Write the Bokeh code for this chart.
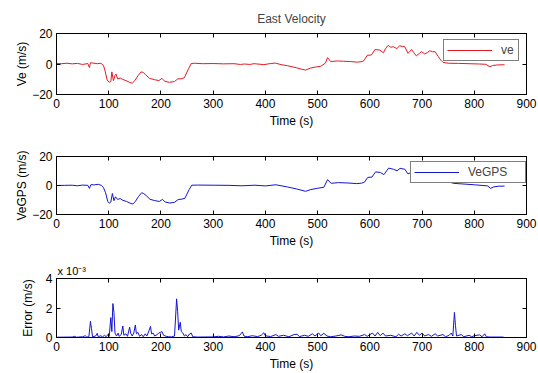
from bokeh.plotting import figure
from bokeh.models import Range1d, FixedTicker, LinearAxis, Legend, LegendItem, Title
from bokeh.layouts import column
from bokeh.embed import file_html
from bokeh.resources import INLINE

FONT = "Liberation Sans"

# ---------------- data ----------------
x_ticks = [0, 100, 200, 300, 400, 500, 600, 700, 800, 900]

ve_t = [0, 10, 20, 30, 40, 50, 60, 63, 65, 70, 78, 85, 90, 93, 97, 101, 104, 106, 109, 112,
        114, 117, 122, 126, 133, 140, 145, 150, 156, 162, 166, 170, 178, 188, 196, 202, 207,
        216, 226, 232, 240, 245, 248, 253, 258, 265, 280, 300, 320, 340, 352, 360, 370, 378,
        397, 410, 419, 430, 442, 460, 470, 477, 486, 496, 506, 515, 519, 525, 538, 550, 563,
        576, 585, 589, 595, 603, 610, 619, 626, 630, 635, 640, 645, 652, 657, 662, 667, 673,
        676, 680, 684, 689, 695, 699, 705, 710, 715, 720, 725, 731, 736, 740, 750, 770, 790,
        810, 822, 830, 835, 845, 858]
ve = [0.3, 0.2, 0.5, 0.1, 0.4, -0.3, 0.3, -2.3, 0.8, 0.6, 0.2, 0.5, -1.0, -4.5, -10.5, -12.0,
      -11.5, -5.2, -10.9, -7.5, -6.6, -9.8, -9.2, -10.0, -10.9, -12.0, -12.6, -10.9, -7.7,
      -5.2, -5.5, -6.8, -9.4, -10.3, -10.9, -9.4, -11.3, -12.0, -11.5, -9.8, -9.6, -9.0,
      -6.6, -3.0, 0.3, 0.5, 0.2, 0.3, 0.1, 0.2, -0.3, 0.0, -0.3, 0.2, -0.4, 0.3, 0.6, -0.4,
      -1.1, -2.5, -3.5, -4.0, -2.7, -2.0, -1.5, 0.6, 4.2, 1.6, 2.0, 1.8, 1.6, 1.2, 1.6, 2.3,
      5.7, 5.9, 9.5, 9.1, 7.4, 10.0, 12.2, 11.0, 11.3, 10.1, 12.0, 11.5, 11.3, 7.0, 8.0, 9.5,
      7.5, 5.3, 7.0, 8.1, 6.6, 7.5, 8.7, 8.0, 8.1, 4.9, 2.5, 1.1, 0.5, 0.4, 0.2, 0.0, -0.2,
      -1.8, -1.0, -0.6, -0.5]

vegps_t = [0, 15, 30, 40, 50, 60, 63, 66, 72, 80, 86, 90, 94, 98, 101, 104, 107, 110, 113,
           117, 122, 127, 134, 141, 146, 151, 157, 163, 167, 172, 179, 188, 197, 203, 208,
           217, 226, 233, 240, 246, 249, 254, 259, 270, 300, 330, 355, 380, 400, 420, 442,
           460, 477, 487, 500, 512, 519, 526, 540, 560, 575, 584, 590, 596, 604, 611, 620,
           627, 636, 645, 652, 658, 667, 673, 680, 700, 730, 760, 800, 826, 831, 837, 846, 858]
vegps = [0.0, 0.1, 0.2, -0.2, 0.3, 0.1, -2.0, 0.6, 0.4, 0.8, 0.1, -1.5, -5.0, -10.8, -12.2,
         -11.4, -5.5, -10.5, -7.8, -9.6, -9.0, -10.2, -11.0, -12.2, -12.8, -11.0, -7.6, -5.0,
         -5.6, -7.0, -9.5, -10.4, -11.0, -9.6, -11.4, -12.1, -11.6, -9.7, -9.4, -8.8, -6.5,
         -2.8, 0.2, 0.3, 0.2, 0.1, -0.2, 0.2, -0.3, 0.5, -1.0, -2.4, -4.0, -2.8, -1.9, -1.2,
         4.0, 1.5, 2.0, 1.7, 1.3, 1.6, 2.4, 5.6, 5.8, 9.4, 9.0, 7.5, 12.0, 11.2, 10.2, 11.8,
         11.2, 8.0, 9.0, 7.0, 5.0, 1.5, 0.5, -0.3, -2.0, -1.0, -0.5, -0.4]

err_t = [0, 30, 35, 38, 50, 55, 58, 62, 65, 67, 69, 75, 78, 80, 85, 88, 92, 95, 99, 101, 104,
         106, 108, 110, 112, 115, 118, 120, 124, 127, 129, 133, 136, 140, 142, 145, 148, 151,
         153, 156, 159, 163, 166, 170, 173, 177, 180, 182, 185, 188, 192, 196, 199, 202, 205,
         210, 215, 220, 226, 230, 232, 234, 237, 239, 242, 245, 248, 251, 255, 258, 261, 270,
         300, 310, 320, 330, 340, 350, 356, 359, 365, 375, 385, 392, 397, 400, 410, 420, 425,
         435, 445, 455, 461, 465, 475, 482, 490, 495, 502, 506, 512, 518, 525, 535, 545, 552,
         560, 570, 580, 590, 595, 605, 610, 615, 620, 625, 630, 640, 650, 655, 660, 667, 672,
         680, 685, 690, 695, 700, 705, 712, 718, 725, 730, 740, 745, 752, 756, 759, 762, 764,
         766, 775, 780, 790, 795, 800, 810, 815, 820, 823, 830, 856]
err = [0.02, 0.03, 0.08, 0.02, 0.05, 0.12, 0.03, 0.05, 1.1, 0.6, 0.05, 0.1, 0.28, 0.05, 0.12,
       0.04, 0.15, 0.05, 0.22, 0.08, 1.35, 0.4, 2.3, 1.7, 0.3, 0.1, 0.3, 0.08, 0.2, 0.78, 0.15,
       0.25, 0.08, 0.7, 0.3, 0.1, 0.3, 0.85, 0.25, 0.35, 0.08, 0.2, 0.05, 0.25, 0.1, 0.45,
       0.75, 0.25, 0.3, 0.1, 0.18, 0.3, 0.35, 0.4, 0.15, 0.08, 0.05, 0.04, 0.1, 2.62, 1.75,
       0.5, 1.03, 0.4, 0.3, 0.1, 0.2, 0.05, 0.25, 0.3, 0.05, 0.03, 0.04, 0.08, 0.04, 0.1,
       0.05, 0.12, 0.38, 0.1, 0.05, 0.12, 0.06, 0.15, 0.32, 0.12, 0.06, 0.2, 0.08, 0.15, 0.05,
       0.2, 0.22, 0.06, 0.15, 0.08, 0.25, 0.1, 0.3, 0.12, 0.28, 0.1, 0.05, 0.1, 0.18, 0.08,
       0.05, 0.1, 0.08, 0.2, 0.08, 0.3, 0.1, 0.35, 0.12, 0.3, 0.1, 0.15, 0.05, 0.22, 0.1, 0.25,
       0.12, 0.3, 0.1, 0.35, 0.15, 0.3, 0.1, 0.2, 0.08, 0.25, 0.1, 0.2, 0.05, 0.15, 0.3, 0.1,
       1.7, 0.8, 0.1, 0.2, 0.05, 0.15, 0.05, 0.12, 0.18, 0.05, 0.25, 0.05, 0.03, 0.03]

RED = "#e41a22"
BLUE = "#1414d2"


def style_axis(ax, hidden=False, label_standoff=3):
    ax.major_tick_in = 4
    ax.major_tick_out = 0
    ax.minor_tick_line_color = None
    ax.axis_line_color = "black"
    ax.major_tick_line_color = "black"
    ax.major_label_text_font = FONT
    ax.major_label_text_font_size = "12px"
    ax.major_label_text_color = "black"
    ax.axis_label_text_font = FONT
    ax.axis_label_text_font_size = "12px"
    ax.axis_label_text_font_style = "normal"
    ax.axis_label_text_color = "black"
    ax.major_label_standoff = 4
    ax.axis_label_standoff = label_standoff
    if hidden:
        ax.major_label_text_font_size = "0px"
        ax.major_label_standoff = 0
        ax.axis_label = None


def make_panel(h, top, bottom, yr, yticks, ylabel, ylabel_standoff):
    p = figure(width=538, height=h, output_backend="svg", toolbar_location=None,
               x_range=Range1d(0, 900), y_range=Range1d(*yr),
               min_border_left=56, min_border_right=12,
               min_border_top=top, min_border_bottom=bottom)
    p.xgrid.visible = False
    p.ygrid.visible = False
    p.outline_line_color = "black"
    p.background_fill_color = "white"
    p.border_fill_color = "white"
    p.xaxis.ticker = FixedTicker(ticks=x_ticks)
    p.yaxis.ticker = FixedTicker(ticks=yticks)
    p.xaxis.axis_label = "Time (s)"
    p.yaxis.axis_label = ylabel
    style_axis(p.xaxis[0])
    style_axis(p.yaxis[0], label_standoff=ylabel_standoff)
    ta = LinearAxis(ticker=FixedTicker(ticks=x_ticks))
    ra = LinearAxis(ticker=FixedTicker(ticks=yticks))
    style_axis(ta, hidden=True)
    style_axis(ra, hidden=True)
    p.add_layout(ta, "above")
    p.add_layout(ra, "right")
    return p


def style_legend(lg, loc, label_width):
    lg.location = loc
    lg.border_line_color = "black"
    lg.border_line_width = 1
    lg.background_fill_color = "white"
    lg.background_fill_alpha = 1
    lg.label_text_font = FONT
    lg.label_text_font_size = "12px"
    lg.glyph_width = 45
    lg.glyph_height = 12
    lg.label_height = 12
    lg.label_width = label_width
    lg.label_standoff = 9
    lg.padding = 3
    lg.margin = 0
    lg.spacing = 0


# panel 1
p1 = make_panel(130, 33, 34, (-20, 20), [-20, 0, 20], "Ve (m/s)", 0)
p1.title.text = "East Velocity"
p1.title.align = "center"
p1.title.text_font = FONT
p1.title.text_font_size = "12px"
p1.title.text_font_style = "normal"
p1.title.standoff = 15
r1 = p1.line(ve_t, ve, line_color=RED, line_width=1)
lg1 = Legend(items=[LegendItem(label="ve", renderers=[r1])])
style_legend(lg1, (387, 33), 14)
p1.add_layout(lg1, "center")

# panel 2
p2 = make_panel(120, 26, 32, (-20, 20), [-20, 0, 20], "VeGPS (m/s)", 0)
r2 = p2.line(vegps_t, vegps, line_color=BLUE, line_width=1)
lg2 = Legend(items=[LegendItem(label="VeGPS", renderers=[r2])])
style_legend(lg2, (354, 31), 54)
p2.add_layout(lg2, "center")

# panel 3 (values in units of 1e-3 m/s)
p3 = make_panel(123, 28, 34, (0, 4), [0, 2, 4], "Error (m/s)", 8)
p3.line(err_t, err, line_color=BLUE, line_width=1)
p3.add_layout(Title(text="x 10\u207b\u00b3", align="left", text_font=FONT,
                    text_font_size="11px", text_font_style="normal",
                    text_color="black", standoff=3, offset=1), "above")

layout = column(p1, p2, p3, spacing=0)
open("out.html", "w").write(file_html(layout, INLINE))
